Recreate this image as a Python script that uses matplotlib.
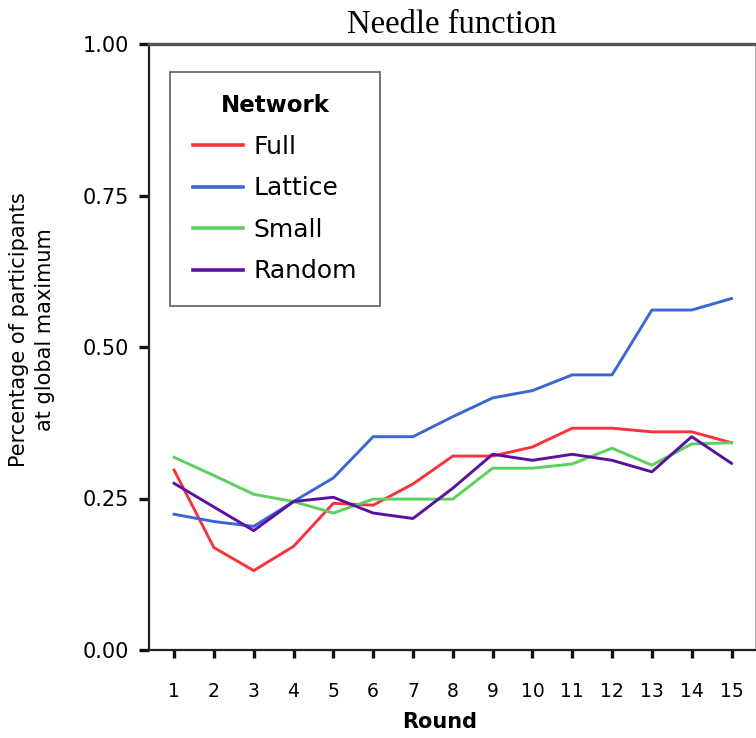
import numpy as np
import matplotlib
matplotlib.use("Agg")
import matplotlib.pyplot as plt

# share of participants sitting on the global maximum, per round and network type
rounds = list(range(1, 16))
full = [0.297, 0.169, 0.131, 0.171, 0.242, 0.239, 0.274, 0.320, 0.320, 0.335,
        0.366, 0.366, 0.360, 0.360, 0.342]
lattice = [0.224, 0.212, 0.204, 0.245, 0.284, 0.352, 0.352, 0.385, 0.416, 0.428,
           0.454, 0.454, 0.561, 0.561, 0.580]
small = [0.318, 0.288, 0.257, 0.245, 0.226, 0.249, 0.249, 0.249, 0.300, 0.300,
         0.307, 0.333, 0.305, 0.340, 0.342]
random_net = [0.275, 0.236, 0.197, 0.245, 0.252, 0.226, 0.217, 0.267, 0.323, 0.313,
              0.323, 0.313, 0.294, 0.352, 0.308]

series = [("Full", full, "#f8333c"),
          ("Lattice", lattice, "#3b67d4"),
          ("Small", small, "#5ccf5c"),
          ("Random", random_net, "#5a129e")]

y_ticks = [0.0, 0.25, 0.5, 0.75, 1.0]

W, H = 756, 738
fig = plt.figure(figsize=(W / 100, H / 100), dpi=100)
ax = fig.add_axes([149 / W, (H - 650) / H, 606 / W, 606 / H])

for name, vals, col in series:
    ax.plot(rounds, vals, color=col, lw=2.1, label=name, solid_joinstyle="round")

ax.set_xlim(0.37, 15.59)
ax.set_ylim(0, 1)
ax.set_xticks(rounds)
ax.set_xticklabels([str(r) for r in rounds])
ax.set_yticks(y_ticks)
ax.set_yticklabels([f"{v:.2f}" for v in y_ticks])

ax.tick_params(axis="y", direction="out", length=7.2, width=2.4, pad=7,
               labelsize=15, color="#111111")
ax.tick_params(axis="x", direction="out", length=5.8, width=2.4, pad=17,
               labelsize=13.5, color="#111111")

for side in ("left", "bottom"):
    ax.spines[side].set_linewidth(1.6)
    ax.spines[side].set_color("#222222")
ax.spines["top"].set_linewidth(2.4)
ax.spines["top"].set_color("#555555")
ax.spines["right"].set_linewidth(0.8)
ax.spines["right"].set_color("#bbbbbb")

ax.set_title("Needle function", fontsize=23.5, family="Liberation Serif", pad=8)

fig.text(32 / W, 1 - 330 / H, "Percentage of participants\nat global maximum",
         rotation=90, ha="center", va="center", fontsize=15, linespacing=1.4)
fig.text(440 / W, 1 - 722 / H, "Round", ha="center", va="center",
         fontsize=15, fontweight="bold")

leg = ax.legend(loc="upper left", bbox_to_anchor=(0.0347, 0.954), title="Network",
                fontsize=18, frameon=True, fancybox=False, handlelength=2.0,
                handletextpad=0.45, labelspacing=0.7, borderpad=0.9,
                borderaxespad=0)
leg.get_title().set_fontsize(16.5)
leg.get_title().set_fontweight("bold")
leg.get_frame().set_edgecolor("#444444")
leg.get_frame().set_linewidth(1.3)
for line in leg.get_lines():
    line.set_linewidth(2.6)

fig.savefig("out.png", dpi=100)
